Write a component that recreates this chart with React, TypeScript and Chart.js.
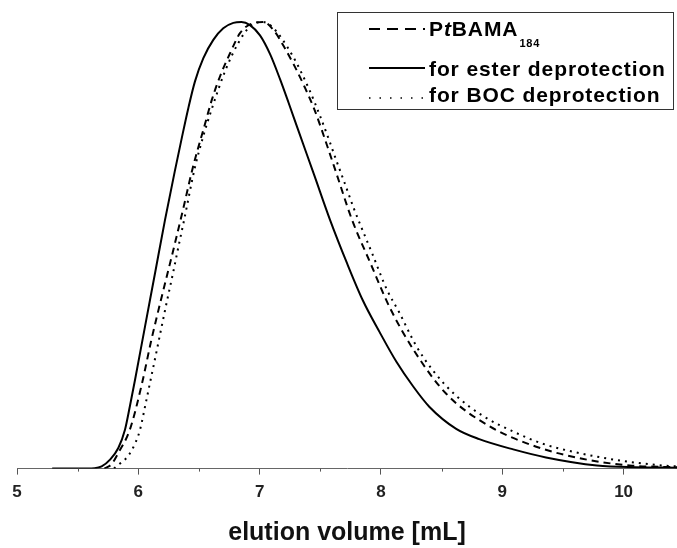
import React, { useEffect, useRef } from 'react';
import { Chart, registerables } from 'chart.js';

Chart.register(...registerables);

// x-axis tick values (labels shown on integers only)
const xTickValues = [5, 5.5, 6, 6.5, 7, 7.5, 8, 8.5, 9, 9.5, 10];

// for ester deprotection (solid)
const esterX = [5.29, 5.5, 5.64, 5.698, 5.767, 5.835, 5.89, 5.93, 5.973, 6.055, 6.138, 6.22, 6.3, 6.358, 6.412, 6.467, 6.536, 6.618, 6.7, 6.783, 6.85, 6.92, 7.003, 7.086, 7.168, 7.24, 7.31, 7.45, 7.58, 7.72, 7.85, 7.99, 8.13, 8.26, 8.4, 8.62, 8.81, 9.09, 9.36, 9.78, 10.1, 10.44];
const esterY = [0, 0, 0.001, 0.005, 0.02, 0.046, 0.087, 0.139, 0.199, 0.318, 0.438, 0.557, 0.665, 0.74, 0.807, 0.867, 0.919, 0.96, 0.986, 0.998, 1.0, 0.993, 0.97, 0.928, 0.872, 0.818, 0.764, 0.657, 0.557, 0.46, 0.377, 0.305, 0.238, 0.186, 0.138, 0.089, 0.066, 0.043, 0.025, 0.007, 0.003, 0.002];

// PtBAMA184 (dashed)
const bamaX = [5.72, 5.78, 5.835, 5.93, 6.028, 6.105, 6.193, 6.289, 6.371, 6.45, 6.55, 6.605, 6.673, 6.756, 6.838, 6.93, 7.03, 7.12, 7.2, 7.29, 7.37, 7.45, 7.56, 7.64, 7.76, 7.91, 8.07, 8.28, 8.54, 8.9, 9.28, 9.66, 10.05, 10.44];
const bamaY = [0, 0.01, 0.035, 0.087, 0.188, 0.285, 0.385, 0.49, 0.583, 0.675, 0.772, 0.825, 0.878, 0.93, 0.975, 0.996, 1.0, 0.98, 0.945, 0.9, 0.855, 0.805, 0.72, 0.655, 0.558, 0.462, 0.362, 0.261, 0.167, 0.094, 0.049, 0.022, 0.007, 0.003];

// for BOC deprotection (dotted)
const bocX = [5.8, 5.82, 5.918, 5.978, 6.014, 6.06, 6.11, 6.15, 6.19, 6.24, 6.29, 6.33, 6.38, 6.467, 6.536, 6.605, 6.715, 6.824, 6.92, 7.02, 7.1, 7.27, 7.41, 7.5, 7.58, 7.62, 7.7, 7.78, 7.93, 8.05, 8.15, 8.29, 8.43, 8.62, 8.84, 9.09, 9.33, 9.58, 9.97, 10.32, 10.44];
const bocY = [0, 0.005, 0.029, 0.059, 0.087, 0.145, 0.21, 0.262, 0.315, 0.38, 0.443, 0.496, 0.56, 0.675, 0.745, 0.805, 0.89, 0.953, 0.99, 1.0, 0.99, 0.925, 0.848, 0.788, 0.73, 0.699, 0.64, 0.58, 0.48, 0.4, 0.35, 0.275, 0.219, 0.163, 0.118, 0.083, 0.056, 0.038, 0.018, 0.007, 0.005];

// legend text pieces
const legendBamaParts = ['P', 't', 'BAMA'];
const legendBamaSub = '184';
const legendEster = 'for ester deprotection';
const legendBoc = 'for BOC deprotection';
const axisTitle = 'elution volume [mL]';

const FONT = '"Liberation Sans", Arial, Helvetica, sans-serif';

const pts = (xs: number[], ys: number[]) => xs.map((x, i) => ({ x, y: ys[i] }));

const minorTickPlugin = {
  id: 'minorTicks',
  afterDraw(chart: any) {
    const sc = chart.scales.x;
    const ctx = chart.ctx;
    ctx.save();
    ctx.strokeStyle = '#555';
    ctx.lineWidth = 1;
    xTickValues.forEach((v) => {
      if (Number.isInteger(v)) return;
      const px = Math.round(sc.getPixelForValue(v)) + 0.5;
      ctx.beginPath();
      ctx.moveTo(px, sc.top);
      ctx.lineTo(px, sc.top + 3);
      ctx.stroke();
    });
    ctx.restore();
  },
};

const boxLegendPlugin = {
  id: 'boxLegend',
  afterDraw(chart: any) {
    const ctx = chart.ctx as CanvasRenderingContext2D;
    ctx.save();
    ctx.strokeStyle = '#333';
    ctx.lineWidth = 1;
    ctx.setLineDash([]);
    ctx.fillStyle = '#fff';
    ctx.fillRect(337.5, 12.5, 336, 97);
    ctx.strokeRect(337.5, 12.5, 336, 97);

    const lx0 = 369;
    const lx1 = 425;
    const tx = 429;
    const drawSample = (y: number, dash: number[], w: number) => {
      ctx.save();
      ctx.strokeStyle = '#000';
      ctx.lineWidth = w;
      ctx.setLineDash(dash);
      ctx.beginPath();
      ctx.moveTo(lx0, y);
      ctx.lineTo(lx1, y);
      ctx.stroke();
      ctx.restore();
    };
    drawSample(29, [11, 7], 2);
    drawSample(68, [], 2);
    drawSample(98, [1.5, 9], 1.5);

    ctx.fillStyle = '#000';
    ctx.textBaseline = 'alphabetic';
    ctx.textAlign = 'left';
    (ctx as any).letterSpacing = '0.9px';
    let x = tx;
    ctx.font = `bold 21px ${FONT}`;
    ctx.fillText(legendBamaParts[0], x, 36);
    x += ctx.measureText(legendBamaParts[0]).width;
    ctx.font = `italic bold 21px ${FONT}`;
    ctx.fillText(legendBamaParts[1], x, 36);
    x += ctx.measureText(legendBamaParts[1]).width;
    ctx.font = `bold 21px ${FONT}`;
    ctx.fillText(legendBamaParts[2], x, 36);
    x += ctx.measureText(legendBamaParts[2]).width;
    (ctx as any).letterSpacing = '0.8px';
    ctx.font = `bold 11px ${FONT}`;
    ctx.fillText(legendBamaSub, x + 1, 47);

    (ctx as any).letterSpacing = '0.9px';
    ctx.font = `bold 21px ${FONT}`;
    ctx.fillText(legendEster, tx, 76);
    ctx.fillText(legendBoc, tx, 102);
    ctx.restore();
  },
};

export default function App() {
  const ref = useRef<HTMLCanvasElement | null>(null);

  useEffect(() => {
    if (!ref.current) return;
    const chart = new Chart(ref.current, {
      type: 'line',
      data: {
        datasets: [
          {
            label: 'PtBAMA184',
            data: pts(bamaX, bamaY),
            borderColor: '#000',
            borderWidth: 2,
            borderDash: [7, 5],
            pointRadius: 0,
            fill: false,
            cubicInterpolationMode: 'monotone',
          },
          {
            label: 'for ester deprotection',
            data: pts(esterX, esterY),
            borderColor: '#000',
            borderWidth: 2,
            pointRadius: 0,
            fill: false,
            cubicInterpolationMode: 'monotone',
          },
          {
            label: 'for BOC deprotection',
            data: pts(bocX, bocY),
            borderColor: '#000',
            borderWidth: 2,
            borderDash: [2, 5],
            pointRadius: 0,
            fill: false,
            cubicInterpolationMode: 'monotone',
          },
        ],
      },
      options: {
        animation: false,
        responsive: false,
        maintainAspectRatio: false,
        layout: { padding: { left: 17, right: 0, top: 12, bottom: 0 } },
        plugins: {
          legend: { display: false },
          tooltip: { enabled: false },
        },
        scales: {
          x: {
            type: 'linear',
            min: 5,
            max: 10.44,
            afterBuildTicks: (scale: any) => {
              scale.ticks = xTickValues.map((v) => ({ value: v }));
            },
            border: { display: true, color: '#666', width: 1 },
            grid: {
              display: true,
              drawOnChartArea: false,
              drawTicks: true,
              tickLength: 6,
              tickColor: (c: any) => (Number.isInteger(c.tick?.value) ? '#555' : 'transparent'),
            },
            ticks: {
              autoSkip: false,
              maxRotation: 0,
              padding: 8,
              color: '#222',
              font: { family: FONT, size: 17, weight: 'bold' },
              callback: (v: any) => (Number.isInteger(Number(v)) ? String(v) : ''),
            },
            title: {
              display: true,
              text: axisTitle,
              color: '#111',
              font: { family: FONT, size: 25, weight: 'bold' },
              padding: { top: 7, bottom: 0 },
            },
          },
          y: {
            display: false,
            min: 0,
            max: 1.0224,
          },
        },
      },
      plugins: [minorTickPlugin, boxLegendPlugin],
    } as any);
    return () => chart.destroy();
  }, []);

  return (
    <div style={{ position: 'absolute', left: 0, top: 0, width: 677, height: 548, background: '#fff' }}>
      <canvas ref={ref} width={677} height={548} style={{ display: 'block' }} />
    </div>
  );
}
